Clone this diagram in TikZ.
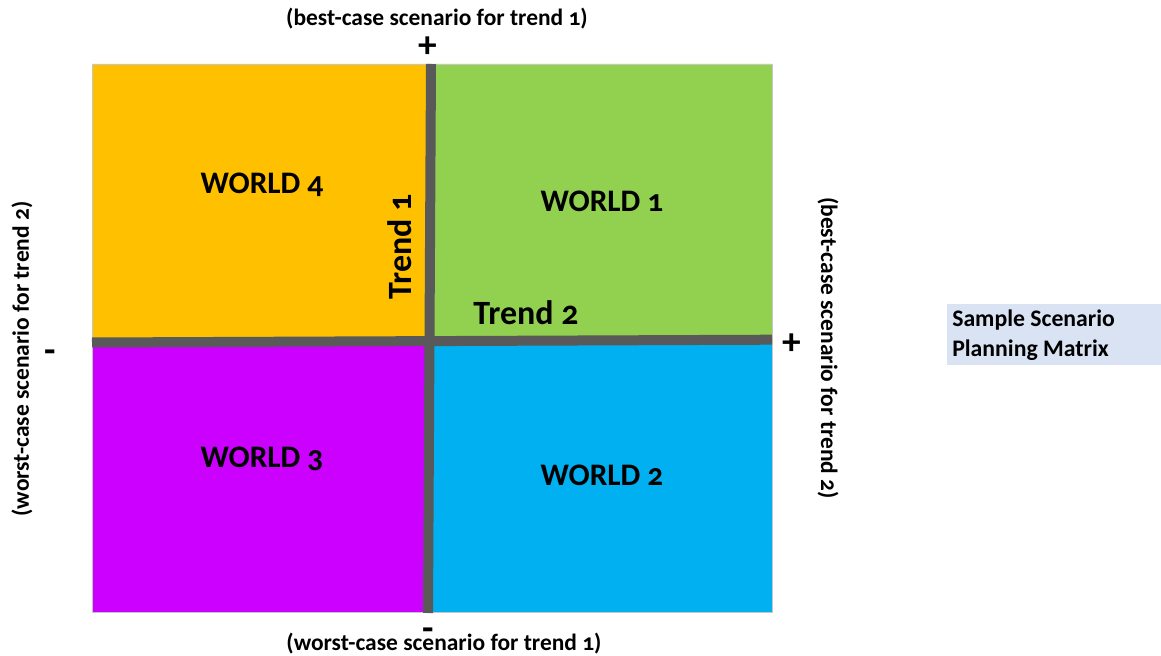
\documentclass[tikz,border=0pt]{standalone}
\usepackage{fontspec}
\setmainfont{Carlito}[Numbers=OldStyle]
\definecolor{qorange}{HTML}{FFC000}
\definecolor{qgreen}{HTML}{92D050}
\definecolor{qpurple}{HTML}{CC00FF}
\definecolor{qblue}{HTML}{00B0F0}
\definecolor{axisgrey}{HTML}{595959}
\definecolor{notebox}{HTML}{DAE3F3}
\begin{document}
\begin{tikzpicture}[x=0.75pt,y=-0.75pt,
  world/.style={font=\bfseries\fontsize{23.5}{28}\selectfont, inner sep=0pt},
  trendlabel/.style={font=\bfseries\fontsize{25.5}{30}\selectfont, inner sep=0pt},
  caption/.style={font=\bfseries\fontsize{17.6}{21}\selectfont, inner sep=0pt},
  sign/.style={font=\bfseries\fontsize{28}{30}\selectfont, inner sep=0pt},
  minussign/.style={sign, text height=0.34em, text depth=-0.2em},
  axis/.style={draw=axisgrey}]
\useasboundingbox (0,0) rectangle (1161,656);
% outer corners and axis end points
\coordinate (tl) at (92,64);
\coordinate (tr) at (772,64);
\coordinate (br) at (772,612);
\coordinate (bl) at (92,612);
\coordinate (vtop) at (431,64);
\coordinate (vbot) at (428,613);
\coordinate (hleft) at (92,342.5);
\coordinate (hright) at (772,339.7);
\coordinate (mid) at (429.5,341.1);
% quadrants
\fill[qorange] (tl) -- (vtop) -- (mid) -- (hleft) -- cycle;
\fill[qgreen] (vtop) -- (tr) -- (hright) -- (mid) -- cycle;
\fill[qpurple] (hleft) -- (mid) -- (428,612) -- (bl) -- cycle;
\fill[qblue] (mid) -- (hright) -- (br) -- (428,612) -- cycle;
\draw[gray!45, line width=0.5pt] (tl) rectangle (br);
% axes
\draw[axis, line width=7.5pt] (vtop) -- (vbot);
\draw[axis, line width=7.5pt] (hleft) -- (hright);
% quadrant titles
\node[world] (w4) at (262,185) {WORLD 4};
\node[world] (w1) at (602,201) {WORLD 1};
\node[world] (w3) at (262,459) {WORLD 3};
\node[world] (w2) at (602,475) {WORLD 2};
\node[trendlabel, rotate=90] (t1) at (400,247) {Trend 1};
\node[trendlabel] (t2) at (526,313) {Trend 2};
% axis ends
\node[caption] (capTop) at (437,19) {(best-case scenario for trend 1)};
\node[sign] (plusTop) at (428,47) {+};
\node[minussign] (minusBot) at (428,638) {-};
\node[caption] (capBot) at (444,644) {(worst-case scenario for trend 1)};
\node[minussign] (minusLeft) at (50,360) {-};
\node[caption, rotate=90] (capLeft) at (22,359) {(worst-case scenario for trend 2)};
\node[sign] (plusRight) at (792,344) {+};
\node[caption, rotate=-90] (capRight) at (828,348) {(best-case scenario for trend 2)};
% legend box
\fill[notebox] (947,304) rectangle (1161,365);
\node[font=\bfseries\fontsize{17.8}{22.5}\selectfont, align=left, anchor=west, inner sep=0pt] (note) at (952,335) {Sample Scenario\\Planning Matrix};
\end{tikzpicture}
\end{document}
